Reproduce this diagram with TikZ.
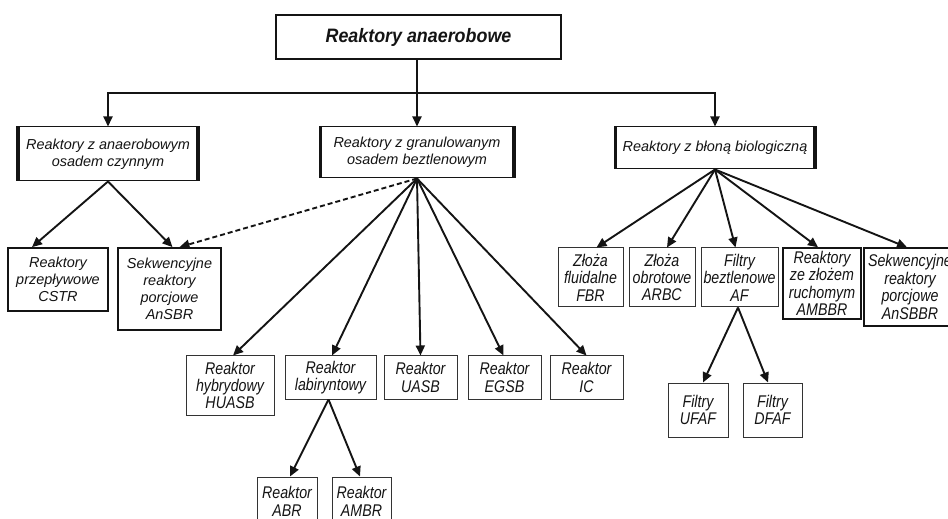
\documentclass[tikz,border=0pt]{standalone}
\usepackage{fontspec}
\setmainfont{Liberation Sans}
\newfontfamily\tallsans{Liberation Sans}[FakeStretch=0.84]
\newfontfamily\titlesans{Liberation Sans}[FakeStretch=0.92]
\usetikzlibrary{arrows.meta,calc}

\definecolor{ink}{HTML}{141414}
\definecolor{frame}{HTML}{333333}

\tikzset{
  box/.style={draw=frame, line width=1bp, fill=white, inner sep=0pt, align=center,
    text=ink, font=\tallsans\fontsize{17}{17.5}\selectfont\itshape},
  plainbox/.style={box, font=\fontsize{14.5}{17}\selectfont\itshape},
  heavybox/.style={plainbox, draw=ink, line width=1.8bp},
  midbox/.style={box, draw=ink, line width=1.4bp},
  titlebox/.style={box, draw=ink, line width=1.4bp, font=\titlesans\fontsize{19.5}{21}\selectfont\bfseries\itshape},
  groupbox/.style={plainbox, draw=ink, line width=1bp},
  sidebar/.style={draw=ink, line width=3.2bp},
  link/.style={draw=ink, line width=1.9bp},
  arr/.style={link, -{Triangle[length=10bp,width=9bp]}},
  darr/.style={arr, dash pattern=on 5bp off 3bp},
}

\begin{document}
\begin{tikzpicture}[x=1bp,y=-1bp]
\useasboundingbox (0,0) rectangle (948,519);
\clip (0,0) rectangle (948,519);

% root
\node[titlebox, minimum width=285bp, minimum height=44bp] (root) at (418.5,37) {Reaktory anaerobowe};

% three main groups
\node[groupbox, minimum width=182bp, minimum height=54bp] (act) at (108,154)
  {Reaktory z anaerobowym\\osadem czynnym};
\node[groupbox, minimum width=196bp, minimum height=51bp] (gran) at (417,152.5)
  {Reaktory z granulowanym\\osadem beztlenowym};
\node[groupbox, minimum width=202bp, minimum height=42bp] (film) at (715,148)
  {Reaktory z błoną biologiczną};
\foreach \g in {act,gran,film}{
  \draw[sidebar] ($(\g.north west)+(1.6,0)$) -- ($(\g.south west)+(1.6,0)$);
  \draw[sidebar] ($(\g.north east)+(-1.6,0)$) -- ($(\g.south east)+(-1.6,0)$);
}

% activated sludge reactors
\node[heavybox, minimum width=100bp, minimum height=63bp] (cstr) at (58,279.5)
  {Reaktory\\przepływowe\\CSTR};
\node[heavybox, minimum width=103bp, minimum height=82bp] (ansbr) at (169.5,289)
  {Sekwencyjne\\reaktory\\porcjowe\\AnSBR};

% granular sludge reactors
\node[box, minimum width=88bp, minimum height=59bp] (huasb) at (230,385.5)
  {Reaktor\\hybrydowy\\HUASB};
\node[box, minimum width=91bp, minimum height=43bp] (lab) at (330.5,377.5)
  {Reaktor\\labiryntowy};
\node[box, minimum width=73bp, minimum height=43bp] (uasb) at (420.5,377.5)
  {Reaktor\\UASB};
\node[box, minimum width=73bp, minimum height=43bp] (egsb) at (504.5,377.5)
  {Reaktor\\EGSB};
\node[box, minimum width=73bp, minimum height=43bp] (ic) at (586.5,377.5)
  {Reaktor\\IC};
\node[box, minimum width=60bp, minimum height=49bp] (abr) at (287,501.5)
  {Reaktor\\ABR};
\node[box, minimum width=59bp, minimum height=49bp] (ambr) at (361.5,501.5)
  {Reaktor\\AMBR};

% biofilm reactors
\node[box, minimum width=65bp, minimum height=59bp] (fbr) at (590.5,277.5)
  {Złoża\\fluidalne\\FBR};
\node[box, minimum width=66bp, minimum height=59bp] (arbc) at (662,277.5)
  {Złoża\\obrotowe\\ARBC};
\node[box, minimum width=77bp, minimum height=59bp] (af) at (739.5,277.5)
  {Filtry\\beztlenowe\\AF};
\node[midbox, minimum width=78bp, minimum height=71bp] (ambbr) at (822,283.5)
  {Reaktory\\ze złożem\\ruchomym\\AMBBR};
\node[midbox, minimum width=92bp, minimum height=78bp] (ansbbr) at (910,287)
  {Sekwencyjne\\reaktory\\porcjowe\\AnSBBR};
\node[box, minimum width=60bp, minimum height=54bp] (ufaf) at (698,410)
  {Filtry\\UFAF};
\node[box, minimum width=59bp, minimum height=54bp] (dfaf) at (772.5,410)
  {Filtry\\DFAF};

% root to groups
\coordinate (bus) at (gran.north |- 0,93);
\draw[link] (root.south -| bus) -- (bus);
\draw[arr] (bus) -| (act.north);
\draw[arr] (bus) -- (gran.north);
\draw[arr] (bus) -| (film.north);

% activated sludge branch
\draw[arr] (act.south) -- ($(cstr.north)+(-26,0)$);
\draw[arr] (act.south) -- ($(ansbr.north)+(3,0)$);
\draw[darr] (gran.south) -- ($(ansbr.north)+(10,0)$);

% granular sludge branch
\draw[arr] (gran.south) -- ($(huasb.north)+(3,0)$);
\draw[arr] (gran.south) -- ($(lab.north)+(1.5,0)$);
\draw[arr] (gran.south) -- (uasb.north);
\draw[arr] (gran.south) -- ($(egsb.north)+(-1,0)$);
\draw[arr] (gran.south) -- (ic.north);
\draw[arr] ($(lab.south)+(-2,0)$) -- ($(abr.north)+(3,0)$);
\draw[arr] ($(lab.south)+(-2,0)$) -- ($(ambr.north)+(-1.5,0)$);

% biofilm branch
\draw[arr] (film.south) -- ($(fbr.north)+(6,0)$);
\draw[arr] (film.south) -- ($(arbc.north)+(5,0)$);
\draw[arr] (film.south) -- ($(af.north)+(-4,0)$);
\draw[arr] (film.south) -- ($(ambbr.north)+(-4,0)$);
\draw[arr] (film.south) -- ($(ansbbr.north)+(-3,0)$);
\draw[arr] ($(af.south)+(-1.5,0)$) -- ($(ufaf.north)+(5,0)$);
\draw[arr] ($(af.south)+(-1.5,0)$) -- ($(dfaf.north)+(-4.5,0)$);
\end{tikzpicture}
\end{document}
